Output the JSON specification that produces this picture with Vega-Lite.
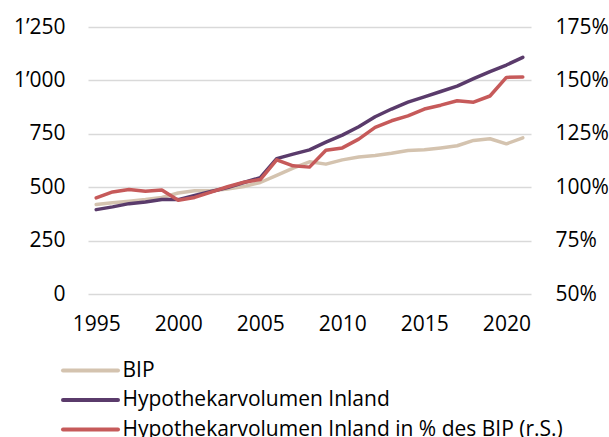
{
  "$schema": "https://vega.github.io/schema/vega-lite/v6.json",
  "width": 443,
  "height": 267,
  "autosize": {"type": "none"},
  "padding": {"left": 88, "top": 27, "right": 78, "bottom": 143},
  "background": "white",
  "config": {
    "view": {"stroke": null},
    "font": "Open Sans",
    "axis": {"labelFont": "Open Sans", "labelFontSize": 21, "labelColor": "#000000", "domain": false, "ticks": false, "titleFontSize": 0},
    "legend": {"labelFont": "Open Sans", "labelFontSize": 21, "labelColor": "#000000", "labelLimit": 0}
  },
  "data": {
    "values": [
      {"year": 1995, "series": "BIP", "value": 419},
      {"year": 1996, "series": "BIP", "value": 427},
      {"year": 1997, "series": "BIP", "value": 434},
      {"year": 1998, "series": "BIP", "value": 442},
      {"year": 1999, "series": "BIP", "value": 452},
      {"year": 2000, "series": "BIP", "value": 473},
      {"year": 2001, "series": "BIP", "value": 483},
      {"year": 2002, "series": "BIP", "value": 483},
      {"year": 2003, "series": "BIP", "value": 492},
      {"year": 2004, "series": "BIP", "value": 503},
      {"year": 2005, "series": "BIP", "value": 522},
      {"year": 2006, "series": "BIP", "value": 555},
      {"year": 2007, "series": "BIP", "value": 589},
      {"year": 2008, "series": "BIP", "value": 619},
      {"year": 2009, "series": "BIP", "value": 608},
      {"year": 2010, "series": "BIP", "value": 628},
      {"year": 2011, "series": "BIP", "value": 641},
      {"year": 2012, "series": "BIP", "value": 648},
      {"year": 2013, "series": "BIP", "value": 659},
      {"year": 2014, "series": "BIP", "value": 672},
      {"year": 2015, "series": "BIP", "value": 675},
      {"year": 2016, "series": "BIP", "value": 684},
      {"year": 2017, "series": "BIP", "value": 694},
      {"year": 2018, "series": "BIP", "value": 719},
      {"year": 2019, "series": "BIP", "value": 727},
      {"year": 2020, "series": "BIP", "value": 703},
      {"year": 2021, "series": "BIP", "value": 731},
      {"year": 1995, "series": "Hypothekarvolumen Inland", "value": 395},
      {"year": 1996, "series": "Hypothekarvolumen Inland", "value": 408},
      {"year": 1997, "series": "Hypothekarvolumen Inland", "value": 423},
      {"year": 1998, "series": "Hypothekarvolumen Inland", "value": 431},
      {"year": 1999, "series": "Hypothekarvolumen Inland", "value": 442},
      {"year": 2000, "series": "Hypothekarvolumen Inland", "value": 442},
      {"year": 2001, "series": "Hypothekarvolumen Inland", "value": 461},
      {"year": 2002, "series": "Hypothekarvolumen Inland", "value": 480},
      {"year": 2003, "series": "Hypothekarvolumen Inland", "value": 498},
      {"year": 2004, "series": "Hypothekarvolumen Inland", "value": 522},
      {"year": 2005, "series": "Hypothekarvolumen Inland", "value": 545},
      {"year": 2006, "series": "Hypothekarvolumen Inland", "value": 634},
      {"year": 2007, "series": "Hypothekarvolumen Inland", "value": 655},
      {"year": 2008, "series": "Hypothekarvolumen Inland", "value": 675},
      {"year": 2009, "series": "Hypothekarvolumen Inland", "value": 711},
      {"year": 2010, "series": "Hypothekarvolumen Inland", "value": 744},
      {"year": 2011, "series": "Hypothekarvolumen Inland", "value": 783},
      {"year": 2012, "series": "Hypothekarvolumen Inland", "value": 830},
      {"year": 2013, "series": "Hypothekarvolumen Inland", "value": 866},
      {"year": 2014, "series": "Hypothekarvolumen Inland", "value": 898},
      {"year": 2015, "series": "Hypothekarvolumen Inland", "value": 923},
      {"year": 2016, "series": "Hypothekarvolumen Inland", "value": 948},
      {"year": 2017, "series": "Hypothekarvolumen Inland", "value": 973},
      {"year": 2018, "series": "Hypothekarvolumen Inland", "value": 1008},
      {"year": 2019, "series": "Hypothekarvolumen Inland", "value": 1041},
      {"year": 2020, "series": "Hypothekarvolumen Inland", "value": 1072},
      {"year": 2021, "series": "Hypothekarvolumen Inland", "value": 1108},
      {"year": 1995, "series": "Hypothekarvolumen Inland in % des BIP (r.S.)", "value": 95.0},
      {"year": 1996, "series": "Hypothekarvolumen Inland in % des BIP (r.S.)", "value": 97.8},
      {"year": 1997, "series": "Hypothekarvolumen Inland in % des BIP (r.S.)", "value": 98.9},
      {"year": 1998, "series": "Hypothekarvolumen Inland in % des BIP (r.S.)", "value": 98.1},
      {"year": 1999, "series": "Hypothekarvolumen Inland in % des BIP (r.S.)", "value": 98.7},
      {"year": 2000, "series": "Hypothekarvolumen Inland in % des BIP (r.S.)", "value": 93.9},
      {"year": 2001, "series": "Hypothekarvolumen Inland in % des BIP (r.S.)", "value": 95.2},
      {"year": 2002, "series": "Hypothekarvolumen Inland in % des BIP (r.S.)", "value": 97.7},
      {"year": 2003, "series": "Hypothekarvolumen Inland in % des BIP (r.S.)", "value": 100.2},
      {"year": 2004, "series": "Hypothekarvolumen Inland in % des BIP (r.S.)", "value": 102.3},
      {"year": 2005, "series": "Hypothekarvolumen Inland in % des BIP (r.S.)", "value": 103.6},
      {"year": 2006, "series": "Hypothekarvolumen Inland in % des BIP (r.S.)", "value": 112.8},
      {"year": 2007, "series": "Hypothekarvolumen Inland in % des BIP (r.S.)", "value": 110.0},
      {"year": 2008, "series": "Hypothekarvolumen Inland in % des BIP (r.S.)", "value": 109.4},
      {"year": 2009, "series": "Hypothekarvolumen Inland in % des BIP (r.S.)", "value": 117.3},
      {"year": 2010, "series": "Hypothekarvolumen Inland in % des BIP (r.S.)", "value": 118.4},
      {"year": 2011, "series": "Hypothekarvolumen Inland in % des BIP (r.S.)", "value": 122.5},
      {"year": 2012, "series": "Hypothekarvolumen Inland in % des BIP (r.S.)", "value": 128.0},
      {"year": 2013, "series": "Hypothekarvolumen Inland in % des BIP (r.S.)", "value": 131.1},
      {"year": 2014, "series": "Hypothekarvolumen Inland in % des BIP (r.S.)", "value": 133.4},
      {"year": 2015, "series": "Hypothekarvolumen Inland in % des BIP (r.S.)", "value": 136.6},
      {"year": 2016, "series": "Hypothekarvolumen Inland in % des BIP (r.S.)", "value": 138.4},
      {"year": 2017, "series": "Hypothekarvolumen Inland in % des BIP (r.S.)", "value": 140.5},
      {"year": 2018, "series": "Hypothekarvolumen Inland in % des BIP (r.S.)", "value": 139.8},
      {"year": 2019, "series": "Hypothekarvolumen Inland in % des BIP (r.S.)", "value": 142.7},
      {"year": 2020, "series": "Hypothekarvolumen Inland in % des BIP (r.S.)", "value": 151.4},
      {"year": 2021, "series": "Hypothekarvolumen Inland in % des BIP (r.S.)", "value": 151.6}
    ]
  },
  "layer": [
    {
      "transform": [{"filter": "datum.series !== 'Hypothekarvolumen Inland in % des BIP (r.S.)'"}],
      "mark": {"type": "line", "strokeWidth": 3.5, "strokeJoin": "round", "strokeCap": "round"},
      "encoding": {
        "x": {"field": "year", "type": "quantitative", "scale": {"domain": [1994.5, 2021.5], "nice": false, "zero": false},
              "axis": {"title": null, "values": [1995, 2000, 2005, 2010, 2015, 2020], "format": "d", "grid": false, "labelPadding": 19, "labelFlush": false}},
        "y": {"field": "value", "type": "quantitative", "scale": {"domain": [0, 1250], "nice": false},
              "axis": {"title": null, "orient": "left", "values": [0, 250, 500, 750, 1000, 1250], "labelExpr": "replace(format(datum.value, ','), ',', '\u2019')", "grid": true, "gridColor": "#D9D9D9", "gridWidth": 1.5, "labelPadding": 23}},
        "color": {"field": "series", "type": "nominal",
                  "scale": {"domain": ["BIP", "Hypothekarvolumen Inland", "Hypothekarvolumen Inland in % des BIP (r.S.)"], "range": ["#D4C3AF", "#5A3B6B", "#C65A5A"]},
                  "legend": {"title": null, "orient": "none", "legendX": -8, "legendY": 333, "direction": "vertical", "symbolType": "M-5,0H5", "symbolSize": 121, "symbolStrokeWidth": 4, "labelOffset": 21.5, "rowPadding": 7.5,
                             "encode": {"symbols": {"update": {"strokeCap": {"value": "round"}}}}}}
      }
    },
    {
      "transform": [{"filter": "datum.series === 'Hypothekarvolumen Inland in % des BIP (r.S.)'"}],
      "mark": {"type": "line", "strokeWidth": 3.5, "strokeJoin": "round", "strokeCap": "round"},
      "encoding": {
        "x": {"field": "year", "type": "quantitative"},
        "y": {"field": "value", "type": "quantitative", "scale": {"domain": [50, 175], "nice": false, "zero": false},
              "axis": {"title": null, "orient": "right", "values": [50, 75, 100, 125, 150, 175], "labelExpr": "datum.value + '%'", "grid": false, "labelPadding": 24}},
        "color": {"field": "series", "type": "nominal"}
      }
    }
  ],
  "resolve": {"scale": {"y": "independent"}}
}
